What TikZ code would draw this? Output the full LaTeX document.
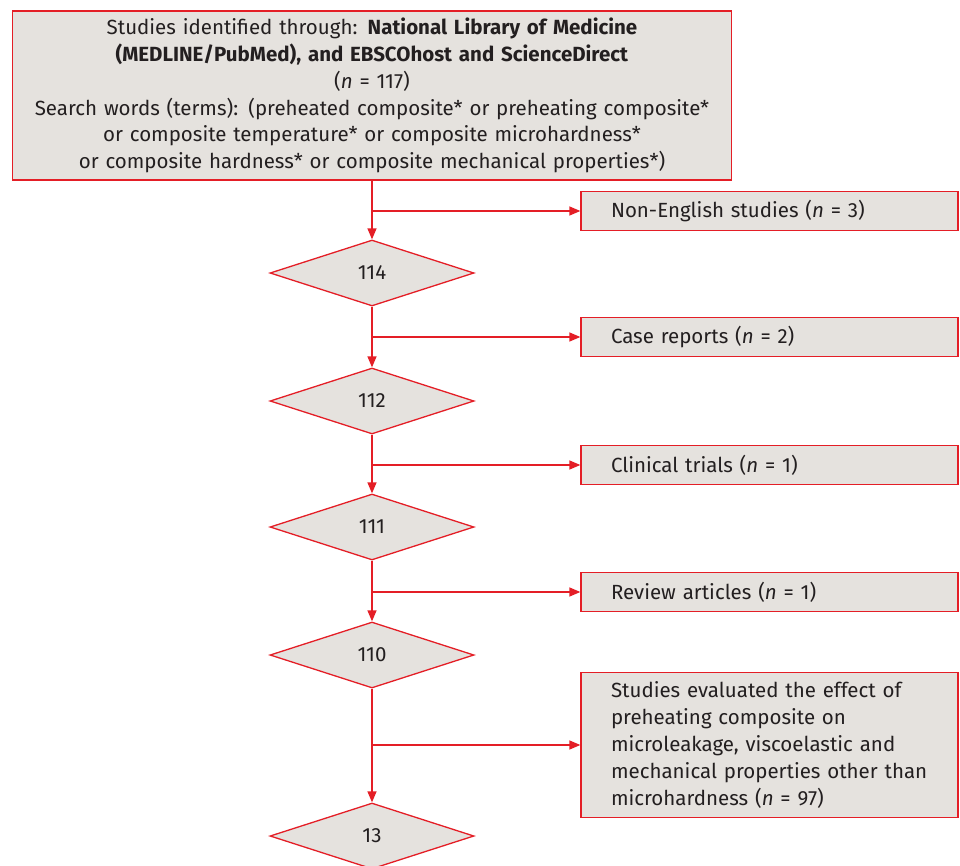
\documentclass[tikz,border=0pt]{standalone}
\usepackage{fontspec}
\setmainfont{Fira Sans}
\usetikzlibrary{shapes.geometric,arrows.meta}
\definecolor{flowred}{RGB}{228,30,38}
\definecolor{flowgrey}{RGB}{229,226,222}
\definecolor{flowtext}{RGB}{35,31,32}
\begin{document}
\begin{tikzpicture}[x=1pt,y=-1pt,draw=flowred,text=flowtext,line width=1.3pt]
	\def \midx{372}
	\def \sidex{769.5}
	\tikzstyle{t-box}=[draw,fill=flowgrey,minimum width=719pt,minimum height=169pt,text width=711pt,inner xsep=4pt,align=center,font=\fontsize{20.5}{26.8}\selectfont]
	\tikzstyle{s-box}=[draw,fill=flowgrey,minimum width=377pt,minimum height=39pt,text width=317pt,inner xsep=30pt,align=left,font=\fontsize{20.5}{27}\selectfont]
	\tikzstyle{n-node}=[draw,fill=flowgrey,diamond,aspect=3,inner sep=0pt,minimum width=204pt,minimum height=66pt,font=\fontsize{20.5}{22}\selectfont]
	\tikzstyle{flow}=[-{Triangle[length=11pt,width=9pt]}]
	\useasboundingbox (0,0) rectangle (960,865);

	% search box
	\node[t-box] (search) at (\midx,95.5) {Studies identified through: \textbf{National Library of Medicine}\\
		\textbf{(MEDLINE/PubMed), and EBSCOhost and ScienceDirect}\\
		(\textit{n} = 117)\\
		Search words (terms): (preheated composite* or preheating composite*\\
		or composite temperature* or composite microhardness*\\
		or composite hardness* or composite mechanical properties*)};

	% remaining counts
	\node[n-node] (n114) at (\midx,273) {114};
	\node[n-node] (n112) at (\midx,401) {112};
	\node[n-node] (n111) at (\midx,527) {111};
	\node[n-node] (n110) at (\midx,655) {110};
	\node[n-node] (n13)  at (\midx,836) {13};

	% excluded
	\node[s-box] (nonen)  at (\sidex,211) {Non-English studies (\textit{n} = 3)};
	\node[s-box] (cases)  at (\sidex,337) {Case reports (\textit{n} = 2)};
	\node[s-box] (trials) at (\sidex,465) {Clinical trials (\textit{n} = 1)};
	\node[s-box] (review) at (\sidex,592) {Review articles (\textit{n} = 1)};
	\node[s-box,minimum height=145pt] (other) at (\sidex,745) {Studies evaluated the effect of\\
		preheating composite on\\
		microleakage, viscoelastic and\\
		mechanical properties other than\\
		microhardness (\textit{n} = 97)};

	% branch points
	\coordinate (j1) at (\midx,211);
	\coordinate (j2) at (\midx,337);
	\coordinate (j3) at (\midx,465);
	\coordinate (j4) at (\midx,592);
	\coordinate (j5) at (\midx,745);

	\path[flow]
		(search)	edge	(n114)
		(n114)	edge	(n112)
		(n112)	edge	(n111)
		(n111)	edge	(n110)
		(n110)	edge	(n13)
		%
		(j1)	edge	(nonen)
		(j2)	edge	(cases)
		(j3)	edge	(trials)
		(j4)	edge	(review)
		(j5)	edge	(other);
\end{tikzpicture}
\end{document}
